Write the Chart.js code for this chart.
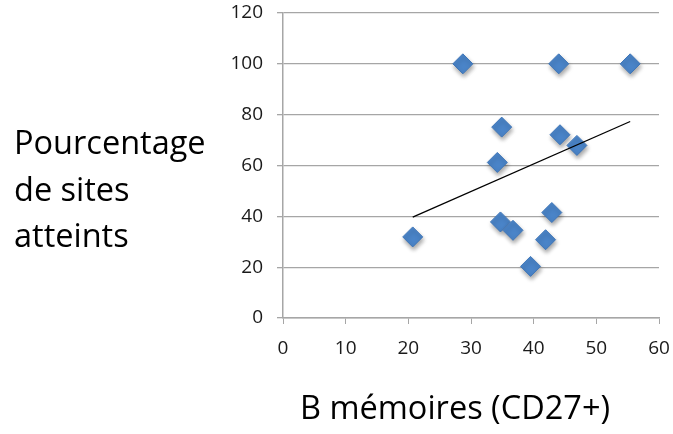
<!DOCTYPE html>
<html>
<head>
<meta charset="utf-8">
<script src="https://cdn.jsdelivr.net/npm/chart.js@4"></script>
<style>
  body { margin: 0; background: #fff; }
  #wrap { position: relative; width: 673px; height: 434px; }
  #ylabel {
    position: absolute; left: 14px; top: 119px;
    font-family: "Open Sans", sans-serif; font-size: 32.5px; line-height: 46.5px;
    color: #000;
  }
  #xlabel {
    position: absolute; left: 300px; top: 385px;
    font-family: "Open Sans", sans-serif; font-size: 32.5px; line-height: 44px;
    color: #000; white-space: nowrap;
  }
</style>
</head>
<body>
<div id="wrap">
  <canvas id="chart" width="673" height="434"></canvas>
  <div id="ylabel">Pourcentage<br>de sites<br>atteints</div>
  <div id="xlabel">B mémoires (CD27+)</div>
</div>
<script>
// B mémoires (CD27+) vs pourcentage de sites atteints
const xValues = [28.7, 44.0, 55.4, 34.9, 44.2, 46.9, 34.2, 20.7, 34.7, 36.7, 42.9, 41.9, 39.5];
const yValues = [100, 100, 100, 75.1, 72.1, 67.9, 61.2, 31.9, 37.8, 34.5, 41.5, 30.8, 20.3];
const trendX = [20.7, 55.4];
const trendY = [39.7, 77.3];
const xTicks = [0, 10, 20, 30, 40, 50, 60];
const yTicks = [0, 20, 40, 60, 80, 100, 120];

const points = xValues.map((x, i) => ({ x: x, y: yValues[i] }));
const trend = trendX.map((x, i) => ({ x: x, y: trendY[i] }));

const shadow = {
  id: "shadow",
  beforeDatasetDraw(chart, args) {
    if (args.index === 1) {
      const c = chart.ctx;
      c.save();
      c.shadowColor = "rgba(0,0,0,0.35)";
      c.shadowBlur = 4;
      c.shadowOffsetX = 1;
      c.shadowOffsetY = 3;
    }
  },
  afterDatasetDraw(chart, args) {
    if (args.index === 1) chart.ctx.restore();
  }
};

const ctx = document.getElementById("chart").getContext("2d");
new Chart(ctx, {
  type: "scatter",
  data: {
    datasets: [{
      data: trend,
      showLine: true,
      borderColor: "#000",
      borderWidth: 1.3,
      pointRadius: 0
    }, {
      data: points,
      pointStyle: "rectRot",
      pointRadius: 10,
      pointBackgroundColor: "#4a84c8",
      pointBorderColor: "#3f76b8",
      pointBorderWidth: 1
    }]
  },
  options: {
    responsive: false,
    animation: false,
    layout: { padding: { top: 13, right: 14, left: 0, bottom: 0 } },
    plugins: { legend: { display: false }, tooltip: { enabled: false } },
    scales: {
      x: {
        type: "linear", min: 0, max: 60,
        afterBuildTicks: axis => { axis.ticks = xTicks.map(v => ({ value: v })); },
        afterFit: axis => { axis.height = 116; axis.paddingLeft = 0; axis.paddingRight = 0; },
        grid: { drawOnChartArea: false, color: "#a6a6a6", tickLength: 6, tickColor: "#a6a6a6" },
        border: { color: "#a6a6a6", width: 1.5 },
        ticks: { color: "#1a1a1a", font: { family: "Open Sans", size: 19 }, padding: 13, maxRotation: 0 }
      },
      y: {
        type: "linear", min: 0, max: 120,
        afterBuildTicks: axis => { axis.ticks = yTicks.map(v => ({ value: v })); },
        afterFit: axis => { axis.width = 283; axis.paddingTop = 0; axis.paddingBottom = 0; },
        grid: { color: "#a6a6a6", lineWidth: 1.3, tickLength: 6, tickColor: "#a6a6a6" },
        border: { color: "#a6a6a6", width: 1.5 },
        ticks: { color: "#1a1a1a", font: { family: "Open Sans", size: 19 }, padding: 14 }
      }
    }
  },
  plugins: [shadow]
});
</script>
</body>
</html>
